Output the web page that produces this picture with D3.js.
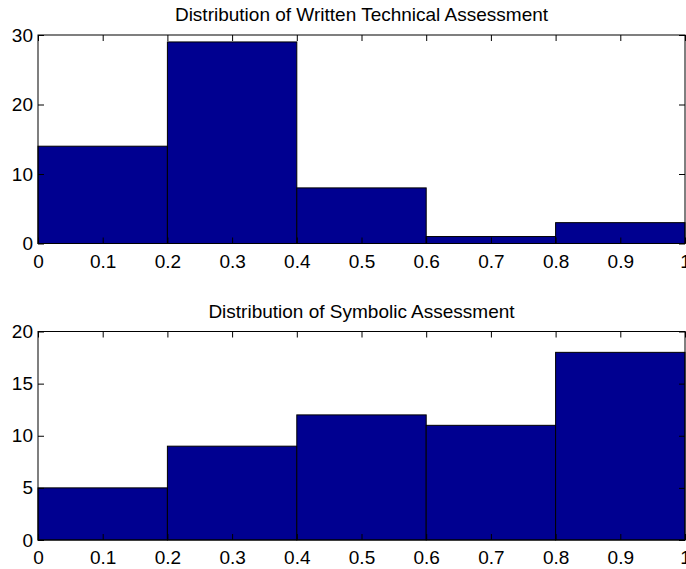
<!DOCTYPE html>
<html>
<head>
<meta charset="utf-8">
<script src="https://cdn.jsdelivr.net/npm/d3@7.9.0/dist/d3.min.js"></script>
<style>
  body { margin: 0; background: #fff; }
  text { font-family: "Liberation Sans", Arial, sans-serif; fill: #000; }
</style>
</head>
<body>
<svg id="chart" width="686" height="569"></svg>
<script>
// bin edges and counts
const binEdges = [0, 0.2, 0.4, 0.6, 0.8, 1];
const writtenCounts = [14, 29, 8, 1, 3];
const symbolicCounts = [5, 9, 12, 11, 18];
const xTicks = [0, 0.1, 0.2, 0.3, 0.4, 0.5, 0.6, 0.7, 0.8, 0.9, 1];
const writtenYTicks = [0, 10, 20, 30];
const symbolicYTicks = [0, 5, 10, 15, 20];

const svg = d3.select('#chart');
const left = 38, right = 685;
const tickLen = 6;
const fontSize = 19;

function drawHist(title, counts, yTicks, top, bottom) {
  const x = d3.scaleLinear().domain([0, 1]).range([left, right]);
  const y = d3.scaleLinear().domain([0, d3.max(yTicks)]).range([bottom, top]);
  const g = svg.append('g');

  const bins = counts.map((c, i) => ({ x0: binEdges[i], x1: binEdges[i + 1], c }));
  g.selectAll('rect.bar')
    .data(bins)
    .join('rect')
    .attr('class', 'bar')
    .attr('x', d => x(d.x0))
    .attr('y', d => y(d.c))
    .attr('width', d => x(d.x1) - x(d.x0))
    .attr('height', d => y(0) - y(d.c))
    .attr('fill', '#000090')
    .attr('stroke', '#000')
    .attr('stroke-width', 1);

  // box
  g.append('rect')
    .attr('x', left).attr('y', top)
    .attr('width', right - left).attr('height', bottom - top)
    .attr('fill', 'none').attr('stroke', '#000').attr('stroke-width', 1);

  // inward ticks, all four sides
  const xa = d3.axisBottom(x).tickValues(xTicks).tickSizeInner(-tickLen).tickSizeOuter(0)
    .tickPadding(11).tickFormat(d3.format('~g'));
  const gx = g.append('g').attr('transform', `translate(0,${bottom})`).call(xa);
  const gxt = g.append('g').attr('transform', `translate(0,${top})`)
    .call(d3.axisTop(x).tickValues(xTicks).tickSizeInner(-tickLen).tickSizeOuter(0).tickFormat(''));
  const ya = d3.axisLeft(y).tickValues(yTicks).tickSizeInner(-tickLen).tickSizeOuter(0).tickPadding(5);
  const gy = g.append('g').attr('transform', `translate(${left},0)`).call(ya);
  const gyr = g.append('g').attr('transform', `translate(${right},0)`)
    .call(d3.axisRight(y).tickValues(yTicks).tickSizeInner(-tickLen).tickSizeOuter(0).tickFormat(''));

  [gx, gxt, gy, gyr].forEach(a => {
    a.select('.domain').remove();
    a.selectAll('line').attr('stroke', '#000');
    a.selectAll('text').attr('font-size', fontSize).attr('font-family', '"Liberation Sans", Arial, sans-serif');
  });

  g.append('text')
    .attr('x', (left + right) / 2)
    .attr('y', top - 14)
    .attr('text-anchor', 'middle')
    .attr('font-size', fontSize)
    .text(title);
}

drawHist('Distribution of Written Technical Assessment', writtenCounts, writtenYTicks, 35, 243.5);
drawHist('Distribution of Symbolic Assessment', symbolicCounts, symbolicYTicks, 331.5, 540);
</script>
</body>
</html>
